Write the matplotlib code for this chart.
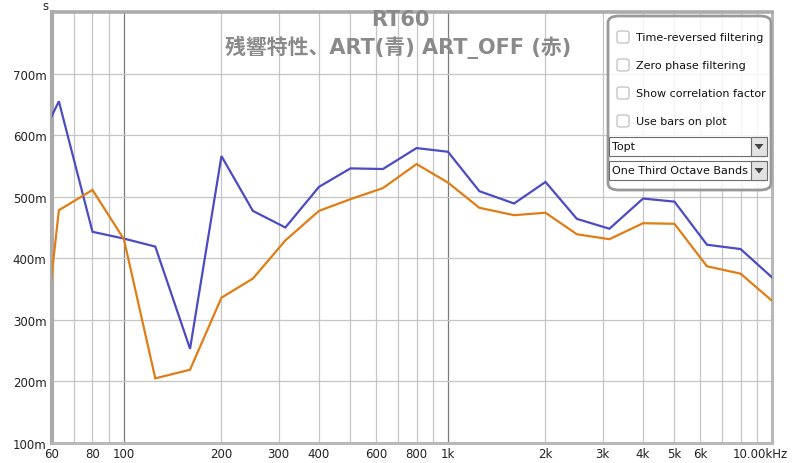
import matplotlib
matplotlib.use("Agg")
import matplotlib.pyplot as plt
import matplotlib.transforms as mtransforms
from matplotlib.patches import FancyBboxPatch, Rectangle, Polygon
from matplotlib.ticker import FixedLocator, NullFormatter

# ---- data ----
freqs = [50, 63, 80, 100, 125, 160, 200, 250, 315, 400, 500, 630, 800,
         1000, 1250, 1600, 2000, 2500, 3150, 4000, 5000, 6300, 8000, 10000]
rt60_art = [0.546, 0.655, 0.443, 0.432, 0.419, 0.253, 0.566, 0.477, 0.450, 0.516,
            0.546, 0.545, 0.579, 0.573, 0.509, 0.489, 0.524, 0.464, 0.448, 0.497,
            0.492, 0.422, 0.415, 0.369]
rt60_art_off = [0.000, 0.478, 0.511, 0.431, 0.205, 0.219, 0.336, 0.367, 0.429, 0.477,
                0.496, 0.514, 0.553, 0.523, 0.482, 0.470, 0.474, 0.439, 0.431, 0.457,
                0.456, 0.387, 0.375, 0.331]
xtick_vals = [60, 80, 100, 200, 300, 400, 600, 800, 1000, 2000, 3000, 4000, 5000, 6000, 10000]
xtick_labels = ["60", "80", "100", "200", "300", "400", "600", "800", "1k", "2k", "3k",
                "4k", "5k", "6k", "10.00kHz"]
ytick_vals = [0.1, 0.2, 0.3, 0.4, 0.5, 0.6, 0.7]
ytick_labels = ["100m", "200m", "300m", "400m", "500m", "600m", "700m"]
title_line1 = "RT60"
title_line2 = "残響特性、ART(青) ART_OFF (赤)"
panel_checks = ["Time-reversed filtering", "Zero phase filtering",
                "Show correlation factor", "Use bars on plot"]
panel_drops = ["Topt", "One Third Octave Bands"]

W, H = 800, 464
fig = plt.figure(figsize=(W / 100, H / 100), dpi=100)
fig.patch.set_facecolor("white")

def fx(x):
    return x / W

def fy(y):
    return 1 - y / H

ax = fig.add_axes([fx(52), fy(444), fx(772) - fx(52), fy(13) - fy(444)])
ax.set_xscale("log")
ax.set_xlim(60, 10000)
ax.set_ylim(0.1, 0.8)

# grid
minor_grid = [m * d for d in (10, 100, 1000) for m in range(2, 10)]
minor_grid = [v for v in minor_grid if 60 <= v <= 10000]
for v in minor_grid:
    ax.axvline(v, color="#c6c6c6", lw=0.9, zorder=0)
for v in (100, 1000):
    ax.axvline(v, color="#7a7a7a", lw=0.9, zorder=0)
for v in [0.2, 0.3, 0.4, 0.5, 0.6, 0.7]:
    ax.axhline(v, color="#c6c6c6", lw=0.9, zorder=0)

ax.plot(freqs, rt60_art, color="#4b4bc4", lw=1.6, zorder=3, solid_joinstyle="miter")
ax.plot(freqs, rt60_art_off, color="#e07d14", lw=1.6, zorder=3, solid_joinstyle="miter")

ax.xaxis.set_major_locator(FixedLocator(xtick_vals))
ax.set_xticklabels(xtick_labels)
ax.xaxis.set_minor_formatter(NullFormatter())
ax.xaxis.set_minor_locator(FixedLocator([]))
ax.set_yticks(ytick_vals)
ax.set_yticklabels(ytick_labels)
ax.tick_params(axis="both", length=0, labelsize=8.5, colors="#222222")
ax.tick_params(axis="x", pad=3)
ax.tick_params(axis="y", pad=4)
lab = ax.get_xticklabels()[-1]
lab.set_transform(lab.get_transform() + mtransforms.ScaledTranslation(-0.12, 0, fig.dpi_scale_trans))

for side, spine in ax.spines.items():
    spine.set_color("#b8b8b8")
    spine.set_linewidth(2.2)
ax.spines["left"].set_color("#ababab")
ax.spines["left"].set_linewidth(3.0)
ax.spines["top"].set_color("#ababab")
ax.spines["top"].set_linewidth(2.6)

fig.text(fx(45), fy(6), "s", ha="center", va="center", fontsize=8.5, color="#222222")

# titles
fig.text(fx(400), fy(20), title_line1, ha="center", va="center", fontsize=15,
         fontweight="bold", color="#8a8a8a", family=["DejaVu Sans", "Noto Sans CJK JP"])
fig.text(fx(398), fy(47), title_line2, ha="center", va="center", fontsize=15,
         fontweight="bold", color="#8a8a8a", family=["DejaVu Sans", "Noto Sans CJK JP"])

# control panel
panel = FancyBboxPatch((fx(608), fy(191)), fx(771) - fx(608), fy(17) - fy(191),
                       boxstyle="round,pad=0,rounding_size=0.014",
                       transform=fig.transFigure, facecolor=(1, 1, 1, 0.82),
                       edgecolor="#999999", lw=2.0, zorder=10)
fig.patches.append(panel)

check_y = [38, 66, 94, 122]
for txt, cy in zip(panel_checks, check_y):
    cb = FancyBboxPatch((fx(617), fy(cy + 6)), fx(12), fy(0) - fy(12),
                        boxstyle="round,pad=0,rounding_size=0.004",
                        transform=fig.transFigure, facecolor="white",
                        edgecolor="#b8b8b8", lw=0.8, zorder=11)
    fig.patches.append(cb)
    fig.text(fx(636), fy(cy), txt, ha="left", va="center", fontsize=8,
             color="#111111", zorder=12)

drop_y = [(138, 157), (162, 181)]
for txt, (y0, y1) in zip(panel_drops, drop_y):
    box = Rectangle((fx(609), fy(y1)), fx(767) - fx(609), fy(y0) - fy(y1),
                    transform=fig.transFigure, facecolor="white",
                    edgecolor="#6e6e6e", lw=0.8, zorder=11)
    fig.patches.append(box)
    btn = Rectangle((fx(751), fy(y1)), fx(767) - fx(751), fy(y0) - fy(y1),
                    transform=fig.transFigure, facecolor="#e2e2e2",
                    edgecolor="#6e6e6e", lw=0.8, zorder=12)
    fig.patches.append(btn)
    cy = (y0 + y1) / 2
    tri = Polygon([(fx(754.5), fy(cy - 2.5)), (fx(763.5), fy(cy - 2.5)), (fx(759), fy(cy + 3))],
                  closed=True, transform=fig.transFigure, facecolor="#444444",
                  edgecolor="none", zorder=13)
    fig.patches.append(tri)
    fig.text(fx(612), fy(cy), txt, ha="left", va="center", fontsize=8,
             color="#111111", zorder=13)

fig.savefig("out.png", dpi=100, facecolor="white")
